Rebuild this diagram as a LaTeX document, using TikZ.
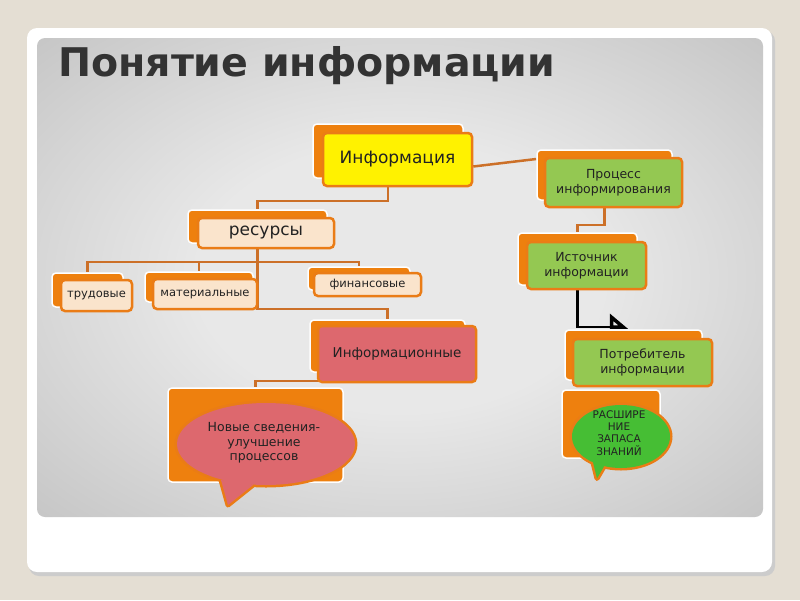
\documentclass[tikz,border=0pt]{standalone}
\usepackage{fontspec}
\setmainfont{DejaVu Sans}
\newfontfamily\titlefont{DejaVu Sans}
\usetikzlibrary{arrows.meta,backgrounds}
\definecolor{bgin}{RGB}{232,232,232}
\definecolor{bgout}{RGB}{172,172,172}
\definecolor{bgcorner}{RGB}{150,150,150}
\pgfdeclareradialshading{slidebg}{\pgfpoint{0bp}{0bp}}{color(0bp)=(bgin); color(14bp)=(bgin); color(52bp)=(bgout); color(72bp)=(bgcorner)}

\begin{document}
\begin{tikzpicture}[x=1pt,y=-1pt,
    backbox/.style={rectangle,rounded corners=4pt,fill=tileback,draw=white,line width=1.5pt},
    frontbox/.style={rectangle,rounded corners=4pt,draw=tileedge,line width=2.5pt,text=textc,align=center,inner sep=1pt},
    link/.style={draw=linkc,line width=2.5pt},
    flow/.style={draw=black,line width=2.5pt,-{Triangle[open,left,length=16pt,width=26pt,line width=3.5pt]}},
    bubbleedge/.style={draw=tileedge,line width=5pt,line join=round},
    big/.style={font=\fontsize{17}{20}\selectfont},
    mid/.style={font=\fontsize{12.5}{15}\selectfont},
    small/.style={font=\fontsize{11.5}{14}\selectfont}]
            \definecolor{page}{RGB}{228,222,211}
            \definecolor{tileback}{RGB}{238,128,14}
            \definecolor{tileedge}{RGB}{234,124,22}
            \definecolor{linkc}{RGB}{204,112,40}
            \definecolor{textc}{RGB}{34,34,34}
            \definecolor{titlec}{RGB}{51,51,51}
            \definecolor{yellowc}{RGB}{255,242,0}
            \definecolor{greenc}{RGB}{148,200,82}
            \definecolor{peachc}{RGB}{250,228,204}
            \definecolor{pinkc}{RGB}{221,104,110}
            \definecolor{brightc}{RGB}{70,190,52}
            \useasboundingbox (0,0) rectangle (800,600);
            \foreach \n/\x/\y/\w/\h in {infoB/388/151/150/54,procB/604.5/175/135/50,resB/257.5/226.5/139/33,
                trudB/87.5/290/71/34,matB/199/287/108/30,finB/359/278.5/102/23,infB/387.5/346/155/52,
                newsB/255.5/435/175/94,srcB/577.5/259/119/52,consB/633.5/355/137/50,growB/611/424/98/68}{
                \node[backbox,minimum width=\w,minimum height=\h] (\n) at (\x,\y) {};
            }
            \node[frontbox,fill=yellowc,minimum width=149,minimum height=53,big] (info) at (397.5,159.5) {Информация};
            \node[frontbox,fill=greenc,minimum width=137,minimum height=49,mid] (proc) at (613.5,182.5) {Процесс\\информирования};
            \node[frontbox,fill=peachc,minimum width=136,minimum height=30,big] (res) at (266,233) {ресурсы};
            \node[frontbox,fill=peachc,minimum width=71,minimum height=31,small] (trud) at (96.5,295.5) {трудовые};
            \node[frontbox,fill=peachc,minimum width=104,minimum height=30,small] (mat) at (205,294) {материальные};
            \node[frontbox,fill=peachc,minimum width=107,minimum height=23,small] (fin) at (367.5,284.5) {финансовые};
            \node[frontbox,fill=pinkc,minimum width=158,minimum height=56,font=\fontsize{13.5}{16}\selectfont] (inf) at (397,354) {Информационные};
            \node[frontbox,fill=greenc,minimum width=119,minimum height=47,mid] (src) at (586.5,265.5) {Источник\\информации};
            \node[frontbox,fill=greenc,minimum width=139,minimum height=47,mid] (cons) at (642.5,362.5) {Потребитель\\информации};
            \coordinate (newsC) at (266,444);
            \draw[bubbleedge] ([shift={(-45,36)}]newsC) -- ++(7,25) -- ([shift={(-13,41)}]newsC) (newsC) ellipse [x radius=89,y radius=41];
            \fill[pinkc] ([shift={(-45,36)}]newsC) -- ++(7,25) -- ([shift={(-13,41)}]newsC) (newsC) ellipse [x radius=89,y radius=41];
            \node[text=textc,align=center,font=\fontsize{12.5}{14.5}\selectfont] (news) at (264,443) {Новые сведения-\\улучшение\\процессов};
            \coordinate (growC) at (621,436.5);
            \draw[bubbleedge] ([shift={(-28,26)}]growC) -- ++(4,16) -- ([shift={(-17,30)}]growC) (growC) ellipse [x radius=49,y radius=31.5];
            \fill[brightc] ([shift={(-28,26)}]growC) -- ++(4,16) -- ([shift={(-17,30)}]growC) (growC) ellipse [x radius=49,y radius=31.5];
            \node[text=textc,align=center,font=\fontsize{10.5}{12.3}\selectfont] (grow) at (619,433) {РАСШИРЕ\\НИЕ\\ЗАПАСА\\ЗНАНИЙ};
            \node[anchor=base west,inner sep=0,text=titlec,font=\titlefont\bfseries\fontsize{39.5}{46}\selectfont] (title) at (58,76) {Понятие информации};
            \begin{scope}[on background layer]
                \fill[page] (0,0) rectangle (800,600);
                \fill[black!20,rounded corners=10pt] (29,31) rectangle (775,576);
                \fill[white,rounded corners=10pt] (27,28) rectangle (772,572);
                \shade[shading=slidebg,rounded corners=8pt] (37,38) rectangle (763,517);
                \draw[link] ([yshift=-7]info.east) -- ([yshift=16]procB.west);
                \draw[link] (infoB.south) -- ++(0,22) -| (resB.north);
                \draw[link] (resB.south) -- ++(0,18) coordinate (resbus) -| (trudB.north);
                \draw[link] (resbus) -| (matB.north);
                \draw[link] (resbus) -| (finB.north);
                \draw[link] (resbus) -- ++(0,47) -| (infB.north);
                \draw[link] (infB.south) -- ++(0,8) -| (newsB.north);
                \draw[link] (procB.south) -- ++(0,24) -| (srcB.north);
                \coordinate (handoff) at (628,327);
                \draw[flow] (srcB.south) |- (handoff);
            \end{scope}
        \end{tikzpicture}
\end{document}
